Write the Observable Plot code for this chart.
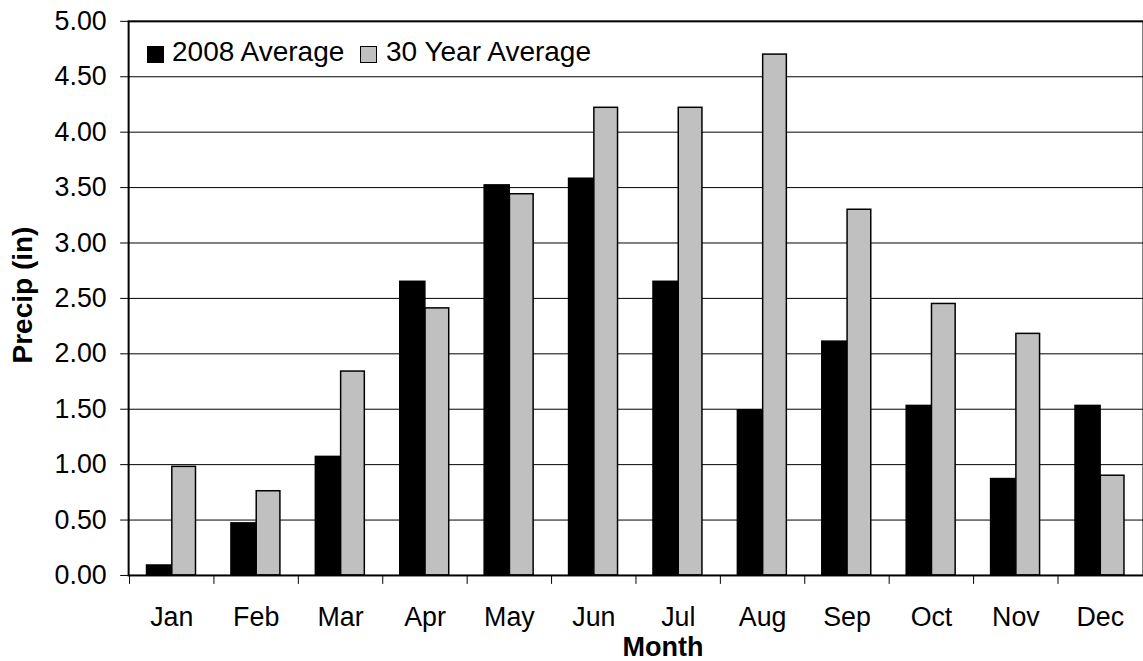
<!DOCTYPE html>
<html>
<head>
<meta charset="utf-8">
<script src="https://cdn.jsdelivr.net/npm/d3@7"></script>
<script src="https://cdn.jsdelivr.net/npm/@observablehq/plot@0.6"></script>
<style>
  html, body { margin: 0; padding: 0; background: #fff; overflow: hidden; }
  #wrap { position: relative; width: 1143px; height: 661px; overflow: hidden; font-family: "Liberation Sans", Arial, sans-serif; color: #000; }
  #chart { position: absolute; left: 0; top: 0; }
  .sw { position: absolute; width: 17px; height: 17px; box-sizing: border-box; border: 1.5px solid #000; }
  .lt { position: absolute; font-size: 28px; line-height: 28px; white-space: nowrap; }
  .ytitle { position: absolute; left: 23px; top: 295px; font-size: 28px; line-height: 28px; font-weight: bold; white-space: nowrap; transform: translate(-50%, -50%) rotate(-90deg); }
  .xtitle { position: absolute; left: 663px; top: 637px; font-size: 27px; line-height: 20px; font-weight: bold; white-space: nowrap; transform: translateX(-50%); }
</style>
</head>
<body>
<div id="wrap">
  <div id="chart"></div>
  <div class="sw" style="left:147px;top:46px;background:#000;"></div>
  <div class="lt" style="left:172px;top:38px;">2008 Average</div>
  <div class="sw" style="left:360px;top:46px;background:#c0c0c0;"></div>
  <div class="lt" style="left:386px;top:38px;">30 Year Average</div>
  <div class="ytitle">Precip (in)</div>
  <div class="xtitle">Month</div>
</div>
<script>
// ---- data ----
const months = ["Jan","Feb","Mar","Apr","May","Jun","Jul","Aug","Sep","Oct","Nov","Dec"];
const avg2008 = [0.09, 0.47, 1.07, 2.65, 3.52, 3.58, 2.65, 1.49, 2.11, 1.53, 0.87, 1.53];
const avg30yr = [0.98, 0.76, 1.84, 2.41, 3.44, 4.22, 4.22, 4.70, 3.30, 2.45, 2.18, 0.90];
const seriesNames = ["2008 Average", "30 Year Average"];
const yTicks = [0, 0.5, 1, 1.5, 2, 2.5, 3, 3.5, 4, 4.5, 5];

// ---- layout ----
const W = 1151, H = 661;
const mL = 129, mR = 0, mT = 21, mB = 82;
const step = (W - mL - mR) / months.length;

const rows2008 = months.map((m, i) => ({month: m, series: seriesNames[0], value: avg2008[i]}));
const rows30 = months.map((m, i) => ({month: m, series: seriesNames[1], value: avg30yr[i]}));

const chart = Plot.plot({
  width: W,
  height: H,
  marginLeft: mL,
  marginRight: mR,
  marginTop: mT,
  marginBottom: mB,
  style: {fontFamily: "'Liberation Sans', Arial, sans-serif", fontSize: "27px", color: "#000", background: "transparent", overflow: "visible"},
  x: {type: "band", domain: months, padding: 0, label: null},
  y: {domain: [0, 5], label: null},
  marks: [
    Plot.gridY(yTicks, {stroke: "#000", strokeOpacity: 1, strokeWidth: 1}),
    Plot.barY(rows2008, {x: "month", y: "value", fill: "#000", stroke: "#000", strokeWidth: 1.5,
      insetLeft: step * 0.206, insetRight: step * 0.495}),
    Plot.barY(rows30, {x: "month", y: "value", fill: "#c0c0c0", stroke: "#000", strokeWidth: 1.5,
      insetLeft: step * 0.505, insetRight: step * 0.213}),
    Plot.frame({stroke: "#000", strokeWidth: 2}),
    Plot.axisY(yTicks, {tickFormat: d3.format(".2f"), tickSize: 8, tickPadding: 14, label: null, stroke: "#000", fontSize: 27}),
    Plot.axisX({tickSize: 0, tickPadding: 32, label: null, fontSize: 27}),
    Plot.axisX({tickSize: 9, tickFormat: () => "", dx: -step / 2, label: null, stroke: "#000"})
  ]
});
document.getElementById("chart").appendChild(chart);
</script>
</body>
</html>
